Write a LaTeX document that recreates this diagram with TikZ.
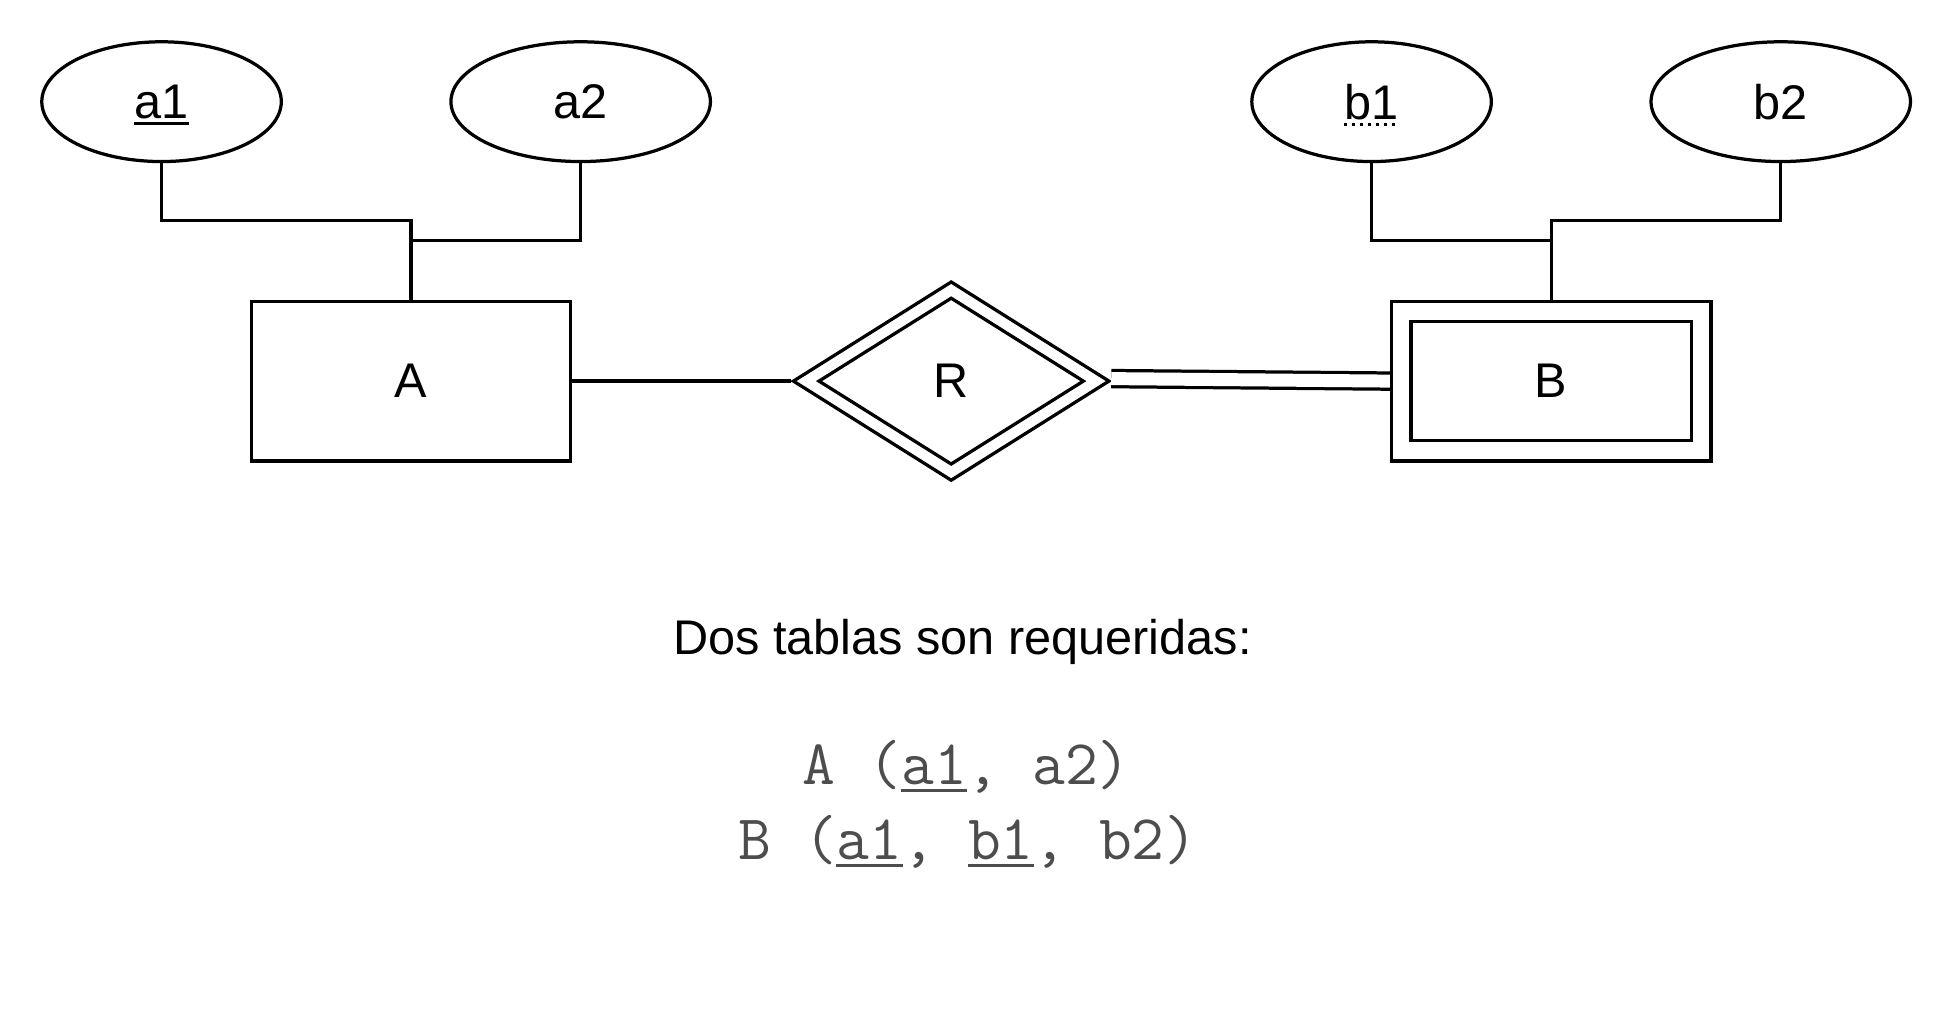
\documentclass[tikz,border=0pt]{standalone}
\usepackage{fontspec}
\setmainfont{Liberation Sans}
\usetikzlibrary{shapes.geometric}
\definecolor{tblgray}{HTML}{4D4D4D}
\newcommand{\erfont}{\fontsize{19.5}{23}\selectfont}
\newcommand{\tblfont}{\ttfamily\fontsize{25.5}{29}\selectfont}
% key attribute: text with a rule under it
\newcommand{\keyline}[2][solid]{\tikz[baseline=(w.base)]{\node[shape=rectangle,draw=none,inner sep=0pt,
  minimum size=0pt,font={}] (w) {#2};
  \draw[overlay,line width=1.2pt,#1] ([yshift=-2.3pt]w.base west) -- ([yshift=-2.3pt]w.base east);}}

\begin{document}
\begin{tikzpicture}[x=0.5pt,y=-0.5pt,line width=1.3pt,every node/.style={font=\erfont},
  attr/.style={ellipse,draw,minimum width=#1,minimum height=48pt,inner sep=0pt},
  entity/.style={rectangle,draw,minimum width=#1,minimum height=64pt,inner sep=0pt},
  rel/.style={diamond,draw,inner sep=0pt},
  link/.style={double,double distance=5.2pt}]
  \useasboundingbox (0,0) rectangle (1568,830);
  % attributes
  \node[attr=96pt] (a1) at (129.5,81.5) {\keyline{a1}};
  \node[attr=104pt] (a2) at (465.5,81.5) {a2};
  \node[attr=96pt] (b1) at (1099.5,81.5) {\keyline[dotted,yshift=-2.8pt]{b1}};
  \node[attr=104pt] (b2) at (1427.5,81.5) {b2};
  % entities and relationship
  \node[entity=128pt] (A) at (329.5,305.5) {A};
  \node[entity=128pt] (B) at (1243.5,305.5) {};
  \node[draw,minimum width=112.5pt,minimum height=47.5pt,inner sep=0pt] (Bin) at (B.center) {B};
  \node[rel,minimum width=127pt,minimum height=80pt] (R) at (762.5,305.5) {};
  \node[rel,minimum width=106.5pt,minimum height=67pt] (Rin) at (R.center) {R};
  % junctions
  \coordinate (ja) at (329.5,177);
  \coordinate (ja2) at (329.5,193);
  \coordinate (jb) at (1243.5,177);
  \coordinate (jb1) at (1243.5,193);
  \draw (a1.south) |- (ja) -- (A.north);
  \draw (a2.south) |- (ja2);
  \draw (b2.south) |- (jb) -- (B.north);
  \draw (b1.south) |- (jb1);
  \draw (A.east) -- (R.west);
  \draw[link] ([yshift=1pt]R.east) -- (B.west);
  % tables
  \node[anchor=base] (note) at (771.5,525) {Dos tablas son requeridas:};
  \node[anchor=base,font=\tblfont,text=tblgray] (tA) at (775,629) {A (\keyline{a1}, a2)};
  \node[anchor=base,font=\tblfont,text=tblgray] (tB) at (776,689) {B (\keyline{a1}, \keyline{b1}, b2)};
\end{tikzpicture}
\end{document}
